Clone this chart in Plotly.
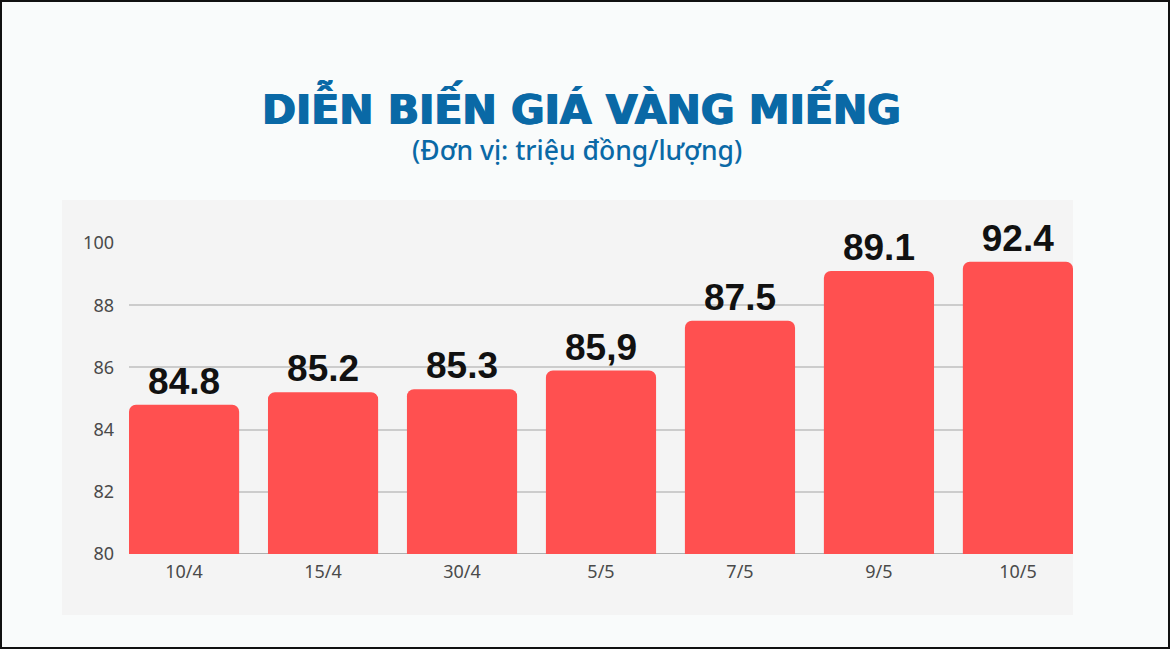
import plotly.graph_objects as go

# --- data ---
dates = ["10/4", "15/4", "30/4", "5/5", "7/5", "9/5", "10/5"]
bar_heights = [84.8, 85.2, 85.3, 85.9, 87.5, 89.1, 89.4]   # drawn height on the axis
bar_labels = ["84.8", "85.2", "85.3", "85,9", "87.5", "89.1", "92.4"]  # text printed on top
y_tickvals = [80, 82, 84, 86, 88, 90]
y_ticktext = ["80", "82", "84", "86", "88", "100"]

TITLE = "DIỄN BIẾN GIÁ VÀNG MIẾNG"
SUBTITLE = "(Đơn vị: triệu đồng/lượng)"

# --- layout in pixels ---
W, H = 1170, 649
PL, PR, PT, PB = 129, 1073, 243, 554   # plot area box


def px_x(x):
    return (x - PL) / (PR - PL)


def px_y(y):
    return (PB - y) / (PB - PT)


BLUE = "#0a69a6"
RED = "#ff5050"

fig = go.Figure(go.Bar(
    x=list(range(len(dates))),
    y=bar_heights,
    text=bar_labels,
    textposition="outside",
    textfont=dict(family="Liberation Sans", size=37, color="#111111", weight="bold"),
    marker=dict(color=RED, line=dict(width=0)),
    width=0.7925,
    cliponaxis=False,
    constraintext="none",
    hoverinfo="skip",
))

fig.update_layout(
    width=W, height=H,
    margin=dict(l=PL, r=W - PR, t=PT, b=H - PB, pad=0),
    paper_bgcolor="#f9fbfb",
    plot_bgcolor="rgba(0,0,0,0)",
    barcornerradius=7,
    showlegend=False,
    font=dict(family="Noto Sans", color="#4a4a4a"),
    xaxis=dict(
        range=[-0.39625, 6.39625],
        tickvals=list(range(len(dates))),
        ticktext=dates,
        tickfont=dict(size=18, color="#4a4a4a"),
        showgrid=False, zeroline=False, showline=False,
        ticks="", ticklabelstandoff=5,
    ),
    yaxis=dict(
        range=[80, 90],
        tickvals=y_tickvals,
        ticktext=y_ticktext,
        tickfont=dict(size=18, color="#4a4a4a"),
        showgrid=True, gridcolor="#cccccc", gridwidth=1.5,
        zeroline=False, showline=False,
        ticks="", ticklabelstandoff=14,
    ),
    shapes=[
        # light panel behind the chart
        dict(type="rect", xref="paper", yref="paper", layer="below",
             x0=px_x(62), x1=px_x(1073), y0=px_y(615), y1=px_y(200),
             fillcolor="#f4f4f4", line=dict(width=0)),
        # darker base line at 80
        dict(type="line", xref="paper", yref="y", layer="below",
             x0=0, x1=1, y0=80, y1=80, line=dict(color="#9a9a9a", width=1.5)),
        # frame round the picture
        dict(type="rect", xref="paper", yref="paper",
             x0=px_x(1), x1=px_x(W - 1), y0=px_y(H - 1), y1=px_y(1),
             fillcolor="rgba(0,0,0,0)", line=dict(color="#111111", width=2)),
    ],
    annotations=[
        dict(text=TITLE, xref="paper", yref="paper",
             x=px_x(581), y=px_y(107), xanchor="center", yanchor="middle",
             showarrow=False,
             font=dict(family="DejaVu Sans", size=41, color=BLUE, weight="bold",
                       # a thin shadow to thicken the strokes a little
                       shadow=f"0.8px 0 0 {BLUE}, -0.8px 0 0 {BLUE}")),
        dict(text=SUBTITLE, xref="paper", yref="paper",
             x=px_x(577), y=px_y(150), xanchor="center", yanchor="middle",
             showarrow=False,
             font=dict(family="Noto Sans", size=26.5, color=BLUE, weight=500)),
    ],
)

# page has a default 8px body margin; drop it so the chart sits at 0,0
fig.write_html("out.html", config={"displayModeBar": False},
               post_script="document.body.style.margin='0';")
